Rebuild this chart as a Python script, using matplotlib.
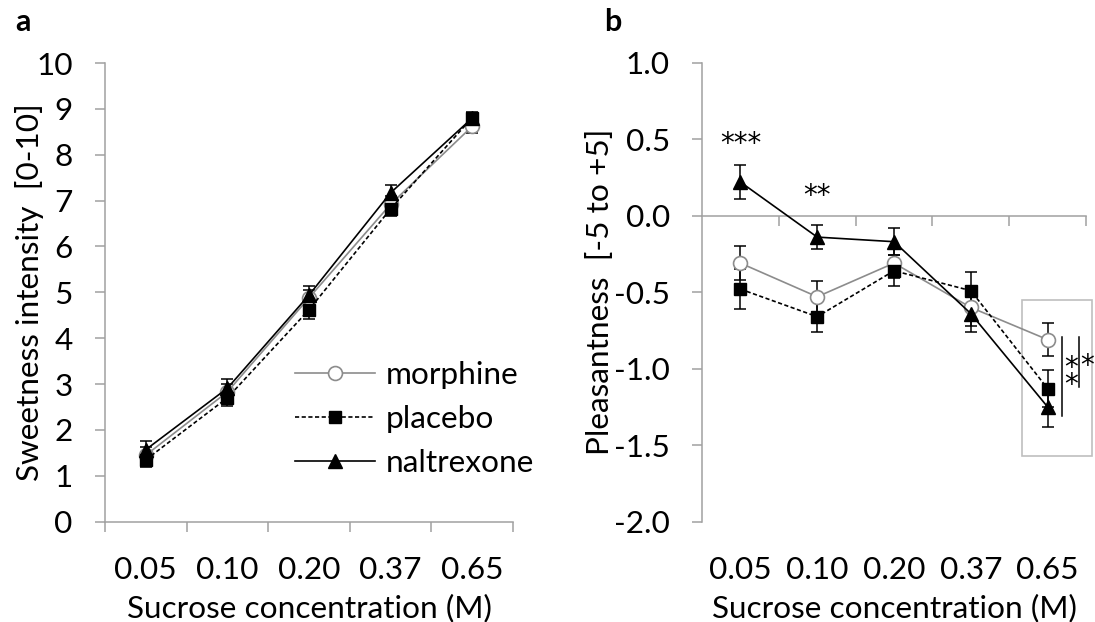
import matplotlib
matplotlib.use("Agg")
import matplotlib.pyplot as plt
from matplotlib.patches import Rectangle
import numpy as np

plt.rcParams['font.family'] = ['Lato', 'DejaVu Sans']

categories = ["0.05", "0.10", "0.20", "0.37", "0.65"]

# Panel a: sweetness intensity
sweet_morphine = [1.45, 2.83, 4.88, 6.92, 8.62]
sweet_morphine_err = [0.18, 0.18, 0.18, 0.18, 0.15]
sweet_placebo = [1.35, 2.70, 4.62, 6.82, 8.81]
sweet_placebo_err = [0.15, 0.18, 0.20, 0.15, 0.12]
sweet_naltrexone = [1.57, 2.91, 4.94, 7.17, 8.80]
sweet_naltrexone_err = [0.18, 0.20, 0.20, 0.18, 0.12]

# Panel b: pleasantness
pleas_morphine = [-0.31, -0.53, -0.31, -0.60, -0.81]
pleas_morphine_err = [0.11, 0.10, 0.10, 0.12, 0.11]
pleas_placebo = [-0.48, -0.66, -0.36, -0.49, -1.13]
pleas_placebo_err = [0.13, 0.10, 0.10, 0.12, 0.12]
pleas_naltrexone = [0.22, -0.14, -0.17, -0.64, -1.25]
pleas_naltrexone_err = [0.11, 0.08, 0.09, 0.12, 0.13]

sig_labels = ["***", "**"]
sig_x = [0, 1]
sig_y = [0.47, 0.13]

AX_GRAY = '#a0a0a0'
LINE_GRAY = '#8c8c8c'

fig = plt.figure(figsize=(10.95, 6.22), dpi=100)
renderer = fig.canvas.get_renderer()


def fit_size(s, target_px, base=20):
    t = fig.text(0, 0, s, fontsize=base)
    w = t.get_window_extent(renderer).width
    t.remove()
    return base * target_px / w


FS = fit_size("Sucrose concentration (M)", 364)
FS_PX = FS * 100 / 72.0

axa = fig.add_axes([0.0959, 0.1613, 0.3726, 0.7374])
axb = fig.add_axes([0.6411, 0.1613, 0.3507, 0.7379])

x = np.arange(len(categories))

series_style = [
    dict(color=LINE_GRAY, ls='-', marker='o', ms=10, mfc='white', mec=LINE_GRAY, mew=1.2),
    dict(color='black', ls=(0, (2.5, 1.5)), marker='s', ms=8.3, mfc='black', mec='black'),
    dict(color='black', ls='-', marker='^', ms=10, mfc='black', mec='black'),
]
names = ['morphine', 'placebo', 'naltrexone']


def draw(ax, data, errs):
    handles = []
    for d, e in zip(data, errs):
        ax.errorbar(x, d, yerr=e, fmt='none', ecolor='black', elinewidth=1.1,
                    capsize=4.5, capthick=1.1, zorder=2)
    for d, st, nm in zip(data, series_style, names):
        h, = ax.plot(x, d, lw=1.2, label=nm, zorder=3, **st)
        handles.append(h)
    return handles


def style(ax):
    for s in ['top', 'right']:
        ax.spines[s].set_visible(False)
    for s in ['left', 'bottom']:
        ax.spines[s].set_color(AX_GRAY)
        ax.spines[s].set_linewidth(1.1)
    ax.set_xlim(-0.5, len(categories) - 0.5)
    ax.set_xticks(x)
    ax.set_xticklabels(categories, fontsize=FS)
    ax.tick_params(axis='x', which='major', length=0, pad=25)
    ax.tick_params(axis='y', which='major', length=7.2, width=1.1, color=AX_GRAY,
                   labelsize=FS, pad=16)
    ax.set_xlabel("Sucrose concentration (M)", fontsize=FS, va='center')
    ax.xaxis.set_label_coords(0.5, -0.188)


# Panel a
handles = draw(axa, [sweet_morphine, sweet_placebo, sweet_naltrexone],
               [sweet_morphine_err, sweet_placebo_err, sweet_naltrexone_err])
style(axa)
axa.set_ylim(0, 10)
axa.set_yticks(range(0, 11))
axa.set_xticks(np.arange(-0.5, len(categories)), minor=True)
axa.tick_params(axis='x', which='minor', length=7.2, width=1.1, color=AX_GRAY)
axa.set_ylabel("Sweetness intensity  [0-10]", fontsize=FS, va='center')
axa.yaxis.set_label_coords(-0.184, 0.5)
axa.legend(handles=handles, loc='upper left', bbox_to_anchor=(0.466, 0.35),
           frameon=False, fontsize=FS, handlelength=80 / FS_PX,
           handletextpad=11 / FS_PX, labelspacing=0.5, borderpad=0,
           borderaxespad=0)

# Panel b
draw(axb, [pleas_morphine, pleas_placebo, pleas_naltrexone],
     [pleas_morphine_err, pleas_placebo_err, pleas_naltrexone_err])
style(axb)
axb.spines['bottom'].set_visible(False)
axb.set_ylim(-2.0, 1.0)
yt = np.arange(-2.0, 1.01, 0.5)
axb.set_yticks(yt)
axb.set_yticklabels([f"{v:.1f}" for v in yt])
axb.set_ylabel("Pleasantness  [-5 to +5]", fontsize=FS, va='center')
axb.yaxis.set_label_coords(-0.266, 0.5)
sec = axb.secondary_xaxis(0, transform=axb.transData)
sec.set_xticks(np.arange(0.5, len(categories)))
sec.set_xticklabels([])
sec.tick_params(axis='x', length=7.2, width=1.1, color=AX_GRAY)
sec.spines['bottom'].set_color(AX_GRAY)
sec.spines['bottom'].set_linewidth(1.1)

AST = dict(family=['DejaVu Sans'], fontsize=20)
for lab, sx, sy in zip(sig_labels, sig_x, sig_y):
    axb.text(sx, sy, lab, ha='center', va='center', **AST)

# highlight box and significance bars at 0.65 M
axb.add_patch(Rectangle((3.66, -1.57), 0.92, 1.02, fill=False, ec='#bfbfbf',
                        lw=1.2, clip_on=False, zorder=1))
axb.plot([4.19, 4.19], [-0.79, -1.31], color='black', lw=1.1, clip_on=False)
axb.plot([4.41, 4.41], [-0.79, -1.12], color='black', lw=1.1, clip_on=False)
axb.text(4.30, -1.05, "*\n*", ha='center', va='center', linespacing=0.5,
         clip_on=False, **AST)
axb.text(4.52, -0.98, "*", ha='center', va='center', clip_on=False, **AST)

fig.text(0.021, 0.965, "a", fontsize=22, fontweight='bold', ha='center', va='center')
fig.text(0.560, 0.965, "b", fontsize=22, fontweight='bold', ha='center', va='center')

fig.savefig("out.png", dpi=100)
